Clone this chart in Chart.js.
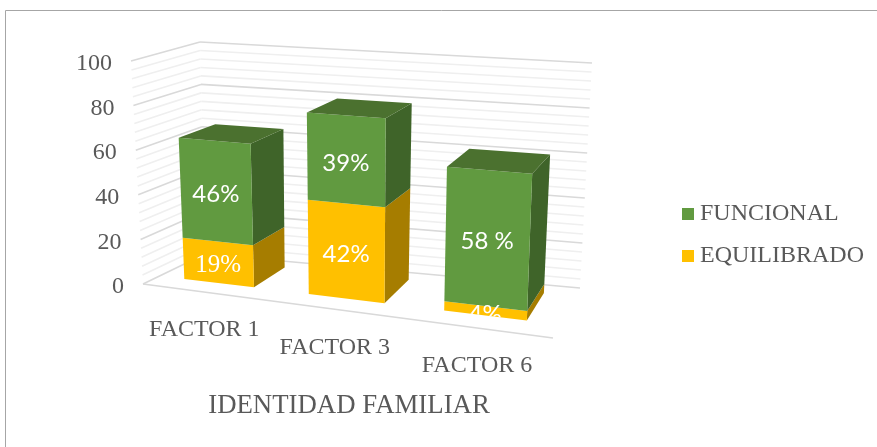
<!DOCTYPE html>
<html>
<head>
<meta charset="utf-8">
<style>
  html, body { margin: 0; padding: 0; background: #fff; }
  #wrap { width: 877px; height: 447px; }
</style>
<script src="https://cdn.jsdelivr.net/npm/chart.js@4/dist/chart.umd.min.js"></script>
</head>
<body>
<div id="wrap"><canvas id="chart" width="877" height="447"></canvas></div>
<script>
const categories = ["FACTOR 1", "FACTOR 3", "FACTOR 6"];
const equilibrado = [19, 42, 4];
const funcional = [46, 39, 58];
const equilibradoLabels = ["19%", "42%", "4%"];
const funcionalLabels = ["46%", "39%", "58 %"];
const yTickStep = 20;
const yMinorStep = 4;

const colors = {
  green: "#619A40",
  greenSide: "#3F6429",
  greenTop: "#4B712F",
  yellow: "#FFC000",
  yellowSide: "#A67D00",
  text: "#595959",
  major: "#D9D9D9",
  minor: "#EFEFEF",
  frame: "#A6A6A6",
};

const serif = '"Liberation Serif", serif';
const sans = 'Lato, sans-serif';

// corners of the 3d box on screen, named front/back + bottom/top + left/right
const box = {
  fbl: [143, 284], fbr: [553, 338], ftl: [131, 61], ftr: [563, 88],
  bbl: [205, 254], bbr: [580, 288], btl: [200, 42], btr: [592, 63],
};
const perspective = 1.137; // right side sits closer to the viewer
const depthFront = 0.27;
const depthBack = 0.84;
const barShrink = 0.98; // bars stand a bit inside the walls, so they read shorter
const barShift = -0.0025;

function mix(a, b, t) {
  return [a[0] + (b[0] - a[0]) * t, a[1] + (b[1] - a[1]) * t];
}

// u along the categories, h up the value axis, d into the picture, all 0..1
function project(u, h, d) {
  const w = u / (perspective - (perspective - 1) * u);
  const front = mix(mix(box.fbl, box.fbr, w), mix(box.ftl, box.ftr, w), h);
  const back = mix(mix(box.bbl, box.bbr, w), mix(box.btl, box.btr, w), h);
  return mix(front, back, d);
}

function poly(ctx, pts, fill) {
  ctx.beginPath();
  pts.forEach((p, i) => (i ? ctx.lineTo(p[0], p[1]) : ctx.moveTo(p[0], p[1])));
  ctx.closePath();
  if (fill) {
    ctx.fillStyle = fill;
    ctx.fill();
  }
}

function line(ctx, a, b, color, width) {
  ctx.strokeStyle = color;
  ctx.lineWidth = width;
  ctx.beginPath();
  ctx.moveTo(a[0], a[1]);
  ctx.lineTo(b[0], b[1]);
  ctx.stroke();
}

const frame3d = {
  id: "frame3d",
  beforeDraw(chart) {
    const ctx = chart.ctx;
    ctx.save();
    line(ctx, [5.5, 447], [5.5, 10.5], colors.frame, 1);
    line(ctx, [5.5, 10.5], [877, 10.5], colors.frame, 1);
    ctx.restore();
  },
  beforeDatasetsDraw(chart) {
    const ctx = chart.ctx;
    const area = chart.chartArea;
    const y = chart.scales.y;
    const toU = (px) => (px - area.left) / area.width;
    const toH = (py) => (area.bottom - py) / area.height;
    ctx.save();

    // walls
    for (let v = y.min; v <= y.max; v += yMinorStep) {
      if (v % yTickStep === 0) continue;
      const h = toH(y.getPixelForValue(v));
      line(ctx, project(0, h, 0), project(0, h, 1), colors.minor, 1.6);
      line(ctx, project(0, h, 1), project(1, h, 1), colors.minor, 1.6);
    }
    y.ticks.forEach((tick) => {
      const h = toH(y.getPixelForValue(tick.value));
      line(ctx, project(0, h, 0), project(0, h, 1), colors.major, 1.6);
      line(ctx, project(0, h, 1), project(1, h, 1), colors.major, 1.6);
    });
    line(ctx, project(0, 0, 0), project(1, 0, 0), colors.major, 1.6);

    // bars
    const paints = [
      { meta: chart.getDatasetMeta(0), front: colors.yellow, side: colors.yellowSide, texts: equilibradoLabels },
      { meta: chart.getDatasetMeta(1), front: colors.green, side: colors.greenSide, top: colors.greenTop, texts: funcionalLabels },
    ];
    paints.forEach((paint) => {
      paint.meta.data.forEach((bar) => {
        const u0 = toU(bar.x - bar.width / 2) + barShift;
        const u1 = toU(bar.x + bar.width / 2) + barShift;
        const h0 = toH(bar.base) * barShrink;
        const h1 = toH(bar.y) * barShrink;
        poly(ctx, [project(u1, h0, depthFront), project(u1, h1, depthFront), project(u1, h1, depthBack), project(u1, h0, depthBack)], paint.side);
        poly(ctx, [project(u0, h0, depthFront), project(u1, h0, depthFront), project(u1, h1, depthFront), project(u0, h1, depthFront)], paint.front);
        if (paint.top) {
          poly(ctx, [project(u0, h1, depthFront), project(u1, h1, depthFront), project(u1, h1, depthBack), project(u0, h1, depthBack)], paint.top);
        }
      });
    });

    // value labels, cut off by the bottom of the bar like in the original
    ctx.textAlign = "center";
    ctx.textBaseline = "middle";
    ctx.fillStyle = "#fff";
    paints.forEach((paint, s) => {
      paint.meta.data.forEach((bar, i) => {
        const u = toU(bar.x) + barShift;
        const u0 = toU(bar.x - bar.width / 2) + barShift;
        const u1 = toU(bar.x + bar.width / 2) + barShift;
        const c = project(u, ((toH(bar.base) + toH(bar.y)) / 2) * barShrink, depthFront);
        ctx.save();
        poly(ctx, [project(u0, 0, depthFront), project(u1, 0, depthFront), project(u1, 1, depthFront), project(u0, 1, depthFront)]);
        ctx.clip();
        ctx.font = s === 0 && i === 0 ? "25px " + serif : "24px " + sans;
        ctx.fillText(paint.texts[i], c[0], c[1] + 3.5);
        ctx.restore();
      });
    });

    // tick labels follow the slanted box edges
    ctx.fillStyle = colors.text;
    ctx.font = "24px " + serif;
    ctx.textAlign = "right";
    y.ticks.forEach((tick) => {
      const p = project(0, toH(y.getPixelForValue(tick.value)), 0);
      ctx.fillText(tick.label, p[0] - 19, p[1] + 3);
    });
    ctx.textAlign = "center";
    chart.scales.x.ticks.forEach((tick, i) => {
      const p = project(toU(chart.scales.x.getPixelForTick(i)), 0, 0);
      ctx.fillText(categories[i], p[0], p[1] + 38);
    });
    ctx.restore();
    return false;
  },
};

new Chart(document.getElementById("chart"), {
  type: "bar",
  data: {
    labels: categories,
    datasets: [
      { label: "EQUILIBRADO", data: equilibrado, backgroundColor: colors.yellow },
      { label: "FUNCIONAL", data: funcional, backgroundColor: colors.green },
    ],
  },
  options: {
    responsive: false,
    animation: false,
    devicePixelRatio: 1,
    barPercentage: 0.57,
    categoryPercentage: 1,
    layout: { padding: { left: 28, right: 3, top: 24, bottom: 1 } },
    plugins: {
      tooltip: { enabled: false },
      legend: {
        position: "right",
        reverse: true,
        labels: {
          usePointStyle: true,
          pointStyle: "rect",
          boxWidth: 0.01,
          boxHeight: 12,
          padding: 18,
          color: colors.text,
          font: { family: serif, size: 24 },
        },
      },
    },
    scales: {
      x: {
        stacked: true,
        grid: { display: false },
        border: { display: false },
        ticks: { display: false },
        title: {
          display: true,
          text: "IDENTIDAD FAMILIAR",
          color: colors.text,
          font: { family: serif, size: 26.8 },
          padding: { top: 12, bottom: 24 },
        },
      },
      y: {
        display: false,
        stacked: true,
        min: 0,
        max: 100,
        ticks: { stepSize: yTickStep },
      },
    },
  },
  plugins: [frame3d],
});
</script>
</body>
</html>
